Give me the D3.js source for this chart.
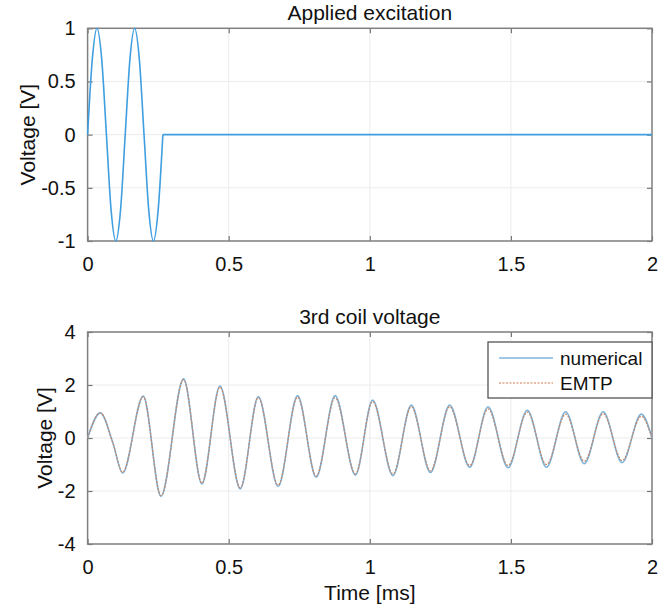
<!DOCTYPE html>
<html>
<head>
<meta charset="utf-8">
<script src="https://cdn.jsdelivr.net/npm/d3@7"></script>
<style>
  body { margin: 0; background: #fff; }
  svg text { font-family: "Liberation Sans", Arial, sans-serif; fill: #111; }
</style>
</head>
<body>
<svg id="chart" width="667" height="611"></svg>
<script>
'use strict';

// ---- data (time in ms, voltage in V) ----
const excitationTime = [0, 0.0167, 0.0333, 0.05, 0.0667, 0.0833, 0.1, 0.1167, 0.1333,
	0.15, 0.1667, 0.1833, 0.2, 0.2167, 0.2333, 0.25, 0.2667];
const excitationVolt = [0, 0.71, 1, 0.71, 0, -0.71, -1, -0.71, 0,
	0.71, 1, 0.71, 0, -0.71, -1, -0.71, 0];
const restTime = [0.2667, 2];
const restVolt = [0, 0];

const coilTime = [0, 0.045, 0.09, 0.124, 0.197, 0.26, 0.34, 0.405, 0.469, 0.541, 0.605,
	0.675, 0.744, 0.81, 0.877, 0.949, 1.01, 1.082, 1.147, 1.215, 1.283, 1.354,
	1.419, 1.49, 1.558, 1.626, 1.694, 1.76, 1.827, 1.894, 1.962, 2];
const numericalVolt = [0, 0.95, -0.2, -1.32, 1.58, -2.2, 2.23, -1.73, 1.96, -1.92, 1.56,
	-1.83, 1.6, -1.48, 1.6, -1.4, 1.43, -1.42, 1.24, -1.3, 1.24, -1.1,
	1.18, -1.12, 1.05, -1.1, 0.99, -0.97, 0.99, -0.93, 0.9, 0];
const emtpVolt = [0, 0.95, -0.2, -1.3, 1.56, -2.18, 2.2, -1.7, 1.92, -1.88, 1.52,
	-1.78, 1.54, -1.44, 1.52, -1.35, 1.38, -1.36, 1.18, -1.24, 1.18, -1.04,
	1.1, -1.04, 0.98, -1.0, 0.9, -0.88, 0.92, -0.85, 0.82, 0];

const xTicks = [0, 0.5, 1, 1.5, 2];
const topYTicks = [-1, -0.5, 0, 0.5, 1];
const bottomYTicks = [-4, -2, 0, 2, 4];
const legendNames = ['numerical', 'EMTP'];

const svg = d3.select('#chart');
const left = 87.6, right = 652;
// plain hyphen for negatives, like the original
const fmt = d => String(d);

/**
 * draws one axes box with grid, inward ticks and labels
 */
function drawAxes(top, bottom, yDomain, yTicks, title, yLabelX, xLabel){
	const x = d3.scaleLinear().domain([0, 2]).range([left, right]);
	const y = d3.scaleLinear().domain(yDomain).range([bottom, top]);
	const g = svg.append('g');

	// grid
	g.selectAll('line.gx').data(xTicks).join('line')
		.attr('x1', d => x(d)).attr('x2', d => x(d))
		.attr('y1', top).attr('y2', bottom)
		.attr('stroke', '#ececec').attr('stroke-width', 1);
	g.selectAll('line.gy').data(yTicks).join('line')
		.attr('y1', d => y(d)).attr('y2', d => y(d))
		.attr('x1', left).attr('x2', right)
		.attr('stroke', '#ececec').attr('stroke-width', 1);

	// axes with inward ticks
	const tickStyle = a => a.call(s => s.select('.domain').remove())
		.call(s => s.selectAll('.tick line').attr('stroke', '#777').attr('stroke-width', 1.2))
		.call(s => s.selectAll('.tick text')
			.style('font-size', '20px').attr('fill', '#111'));

	g.append('g').attr('transform', `translate(0,${bottom})`)
		.call(d3.axisBottom(x).tickValues(xTicks).tickSizeInner(-5).tickSizeOuter(0)
			.tickPadding(16).tickFormat(fmt))
		.call(tickStyle);
	g.append('g').attr('transform', `translate(0,${top})`)
		.call(d3.axisTop(x).tickValues(xTicks).tickSizeInner(-5).tickSizeOuter(0)
			.tickFormat(''))
		.call(tickStyle);
	g.append('g').attr('transform', `translate(${left},0)`)
		.call(d3.axisLeft(y).tickValues(yTicks).tickSizeInner(-5).tickSizeOuter(0)
			.tickPadding(12).tickFormat(fmt))
		.call(tickStyle);
	g.append('g').attr('transform', `translate(${right},0)`)
		.call(d3.axisRight(y).tickValues(yTicks).tickSizeInner(-5).tickSizeOuter(0)
			.tickFormat(''))
		.call(tickStyle);

	g.append('rect')
		.attr('x', left).attr('y', top)
		.attr('width', right - left).attr('height', bottom - top)
		.attr('fill', 'none').attr('stroke', '#808080').attr('stroke-width', 1.5);

	g.append('text')
		.attr('x', (left + right) / 2).attr('y', top - 8)
		.attr('text-anchor', 'middle').style('font-size', '21px')
		.text(title);

	g.append('text')
		.attr('transform', `translate(${yLabelX},${(top + bottom) / 2}) rotate(-90)`)
		.attr('text-anchor', 'middle').attr('dy', '0.35em').style('font-size', '21px')
		.text('Voltage [V]');

	if(xLabel){
		g.append('text')
			.attr('x', (left + right) / 2).attr('y', bottom + 56)
			.attr('text-anchor', 'middle').style('font-size', '21px')
			.text(xLabel);
	}
	return { x, y, g };
}

// top: applied excitation
const ax1 = drawAxes(28.3, 241, [-1, 1], topYTicks, 'Applied excitation', 28, null);
const line1 = d3.line().x(d => ax1.x(d[0])).y(d => ax1.y(d[1])).curve(d3.curveMonotoneX);
ax1.g.append('path')
	.datum(d3.zip(excitationTime, excitationVolt))
	.attr('d', line1).attr('fill', 'none')
	.attr('stroke', '#3f9fe0').attr('stroke-width', 1.6);
ax1.g.append('path')
	.datum(d3.zip(restTime, restVolt))
	.attr('d', line1).attr('fill', 'none')
	.attr('stroke', '#3f9fe0').attr('stroke-width', 1.6);

// bottom: 3rd coil voltage
const ax2 = drawAxes(332, 544, [-4, 4], bottomYTicks, '3rd coil voltage', 45, 'Time [ms]');
const line2 = d3.line().x(d => ax2.x(d[0])).y(d => ax2.y(d[1])).curve(d3.curveMonotoneX);
ax2.g.append('path')
	.datum(d3.zip(coilTime, numericalVolt))
	.attr('d', line2).attr('fill', 'none')
	.attr('stroke', '#7fb3d8').attr('stroke-width', 1.6);
ax2.g.append('path')
	.datum(d3.zip(coilTime, emtpVolt))
	.attr('d', line2).attr('fill', 'none')
	.attr('stroke', '#c98462').attr('stroke-width', 1.2)
	.attr('stroke-dasharray', '2,1.5');

// legend
const lg = ax2.g.append('g');
lg.append('rect')
	.attr('x', 488).attr('y', 342).attr('width', 164).attr('height', 56)
	.attr('fill', '#fff').attr('stroke', '#555').attr('stroke-width', 1.3);
const legendColors = ['#7fb3d8', '#e0a88c'];
legendNames.forEach((name, i) => {
	const yy = 358 + i * 25;
	lg.append('line')
		.attr('x1', 499).attr('x2', 553).attr('y1', yy).attr('y2', yy)
		.attr('stroke', legendColors[i]).attr('stroke-width', 1.6)
		.attr('stroke-dasharray', i ? '2,1.5' : null);
	lg.append('text')
		.attr('x', 560).attr('y', yy).attr('dy', '0.35em')
		.style('font-size', '19px').text(name);
});
</script>
</body>
</html>
